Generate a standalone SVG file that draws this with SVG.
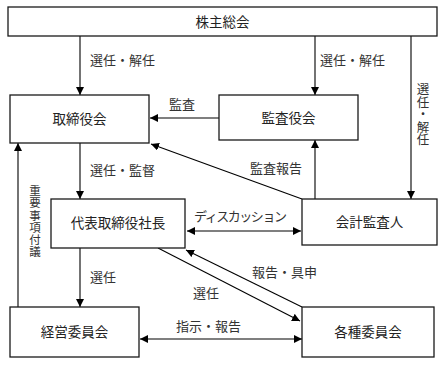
<svg xmlns="http://www.w3.org/2000/svg" width="445" height="366" viewBox="0 0 445 366">
<style>
.box{fill:#fff;stroke:#1a1a1a;stroke-width:1.3}
.t{font-family:"Noto Sans CJK JP","Noto Sans",sans-serif;font-size:13.5px;fill:#222;text-anchor:middle}
.l{font-family:"Noto Sans CJK JP","Noto Sans",sans-serif;font-size:13px;fill:#333}
.v{font-family:"Noto Sans CJK JP","Noto Sans",sans-serif;fill:#333;writing-mode:vertical-rl}
.e{stroke:#000;stroke-width:1.1;fill:none}
</style>
<defs>
<marker id="ah" viewBox="0 0 10 10" refX="10" refY="5" markerWidth="8" markerHeight="8" markerUnits="userSpaceOnUse" orient="auto-start-reverse">
<path d="M0,0 L10,5 L0,10 z" fill="#000"/>
</marker>
</defs>
<rect width="445" height="366" fill="#fff"/>
<g id="edges">
<line class="e" x1="80" y1="36" x2="80" y2="95" marker-end="url(#ah)"/>
<line class="e" x1="315" y1="36" x2="315" y2="95" marker-end="url(#ah)"/>
<line class="e" x1="411" y1="36" x2="411" y2="199" marker-end="url(#ah)"/>
<line class="e" x1="219" y1="118" x2="150" y2="118" marker-end="url(#ah)"/>
<line class="e" x1="80" y1="143" x2="80" y2="199" marker-end="url(#ah)"/>
<line class="e" x1="315" y1="199" x2="315" y2="140" marker-end="url(#ah)"/>
<line class="e" x1="302" y1="199" x2="151" y2="144" marker-end="url(#ah)"/>
<line class="e" x1="187" y1="231" x2="301" y2="231" marker-start="url(#ah)" marker-end="url(#ah)"/>
<line class="e" x1="18" y1="307" x2="18" y2="143" marker-end="url(#ah)"/>
<line class="e" x1="80" y1="248" x2="80" y2="307" marker-end="url(#ah)"/>
<line class="e" x1="158" y1="248" x2="300" y2="321" marker-end="url(#ah)"/>
<line class="e" x1="302" y1="307" x2="186" y2="250" marker-end="url(#ah)"/>
<line class="e" x1="140" y1="339" x2="302" y2="339" marker-start="url(#ah)" marker-end="url(#ah)"/>
<text class="l" x="90" y="65">選任・解任</text>
<text class="l" x="320" y="65">選任・解任</text>
<text class="l" x="169" y="109">監査</text>
<text class="l" x="90" y="175">選任・監督</text>
<text class="l" x="250" y="173">監査報告</text>
<text class="l" x="194" y="221" font-size="11" textLength="93" lengthAdjust="spacing">ディスカッション</text>
<text class="l" x="90" y="282">選任</text>
<text class="l" x="252" y="277">報告・具申</text>
<text class="l" x="193" y="298">選任</text>
<text class="l" x="176" y="331">指示・報告</text>
<text class="v" x="423" y="83" font-size="12.5">選任・解任</text>
<text class="v" x="35" y="185" font-size="11.5" letter-spacing="0.7">重要事項付議</text>
</g>
<g id="n1"><rect class="box" x="8" y="7" width="429" height="29"/><text class="t" x="222.5" y="26.5">株主総会</text></g>
<g id="n2"><rect class="box" x="10" y="95" width="139" height="48"/><text class="t" x="79.5" y="124">取締役会</text></g>
<g id="n3"><rect class="box" x="219" y="95" width="139" height="45"/><text class="t" x="288.5" y="123">監査役会</text></g>
<g id="n4"><rect class="box" x="51" y="199" width="134" height="49"/><text class="t" x="118" y="228">代表取締役社長</text></g>
<g id="n5"><rect class="box" x="302" y="199" width="135" height="46"/><text class="t" x="369.5" y="227">会計監査人</text></g>
<g id="n6"><rect class="box" x="10" y="307" width="129" height="50"/><text class="t" x="74.5" y="337">経営委員会</text></g>
<g id="n7"><rect class="box" x="302" y="307" width="132" height="50"/><text class="t" x="368" y="337">各種委員会</text></g>
</svg>
